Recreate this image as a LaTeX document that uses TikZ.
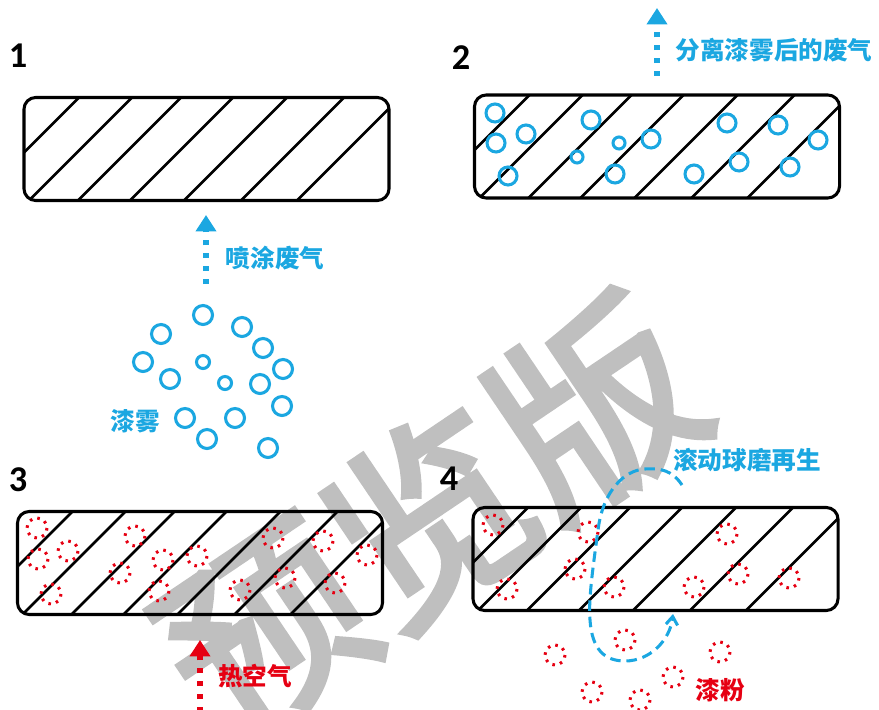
\documentclass[tikz,border=0pt]{standalone}
\usepackage{fontspec}
\newfontfamily\cjk{Noto Sans CJK SC}
\newfontfamily\markfont{Noto Sans CJK SC}[FakeBold=3]
\newfontfamily\numfont{Carlito}
\usetikzlibrary{arrows.meta}
\definecolor{sprayblue}{RGB}{27,167,225}
\definecolor{paintred}{RGB}{230,0,18}
\definecolor{markgray}{RGB}{191,191,191}
\begin{document}
\begin{tikzpicture}[x=0.03cm, y=-0.03cm,
bed/.style={draw, line width=2.6pt, rounded corners=10pt, outer sep=0pt, minimum width=10.95cm, minimum height=3.09cm},
hatch/.style={line width=2.4pt},
stagenum/.style={font=\numfont\bfseries\fontsize{31}{31}\selectfont},
bluelabel/.style={text=sprayblue, font=\cjk\bfseries\fontsize{21}{25}\selectfont, inner sep=0pt},
redlabel/.style={text=paintred, font=\cjk\bfseries\fontsize{21}{25}\selectfont, inner sep=0pt},
watermark/.style={text=markgray, font=\markfont\fontsize{170}{170}\selectfont, rotate=34, inner sep=0pt},
blueflow/.style={sprayblue, line width=4.5pt, dash pattern=on 4.5pt off 6.5pt, -{Triangle[length=14pt, width=17pt]}},
redflow/.style={paintred, line width=4.5pt, dash pattern=on 4.5pt off 6.5pt, -{Triangle[length=14pt, width=17pt]}},
mist/.style={sprayblue, line width=2.6pt},
powder/.style={paintred, line width=2.6pt, dash pattern=on 2.2pt off 4.5pt},
rollpath/.style={sprayblue, line width=2.6pt, dash pattern=on 9pt off 5pt, -{Straight Barb[length=7pt, width=10pt]}},
]
\useasboundingbox (0,0) rectangle (879,710);
%Watermark
\node[watermark] (wm) at (430,518) {预览版};
%Beds
\node[bed] (b1) at (206.5,149) {};
\node[bed] (b2) at (657,146.5) {};
\node[bed] (b3) at (200,563) {};
\node[bed] (b4) at (655.5,559) {};
%Hatching
\foreach \b in {b1,b2,b3,b4}{
\begin{scope}
\clip[rounded corners=10pt] (\b.north west) rectangle (\b.south east);
\foreach \t in {55,108,157,209,263,320,376}
    \draw[hatch] ([xshift=\t*0.03cm]\b.north west) -- ++(-106,106);
\end{scope}
}
%Numbers
\node[stagenum] (n1) at (18,56) {1};
\node[stagenum] (n2) at (461,58) {2};
\node[stagenum] (n3) at (18,480) {3};
\node[stagenum] (n4) at (449,479) {4};
%Stage 1: spray
\foreach \x/\y/\r in {203/315/9.5, 161/334/9.5, 242/327/9.5, 263/348/9.5, 143/362/9.5,
    203/362/6.5, 170/379/9.5, 225/383/6.5, 260/384/9.5, 283/369/9.5,
    282/406/9.5, 185/418/9.5, 235/418/9.5, 207/439/9.5, 268/448/9.5}
    \draw[mist] (\x,\y) circle[radius=\r];
\node[bluelabel] (mistlbl) at (135,421) {漆雾};
\coordinate (a1 tail) at (206,284);
\coordinate (a1 tip) at (206,215);
\draw[blueflow] (a1 tail) -- (a1 tip);
\node[bluelabel] (gaslbl) at (275,258) {喷涂废气};
%Stage 2: mist caught
\foreach \x/\y/\r in {495/113/9, 496/143/9, 526/134/9, 508/176/9, 591/120/9,
    577/157/6, 619/143/6, 651/139/9, 615/174/9, 727/123/9,
    694/174/9, 739/162/9, 778/125/9, 790/167/9, 818/140/9}
    \draw[mist] (\x,\y) circle[radius=\r];
\coordinate (a2 tail) at (657,76);
\coordinate (a2 tip) at (657,8);
\draw[blueflow] (a2 tail) -- (a2 tip);
\node[bluelabel] (outlbl) at (774,50) {分离漆雾后的废气};
%Stage 3: hot air
\foreach \x/\y in {37/528, 68/551, 38/559, 51/594, 135/536, 120/573, 163/560, 197/556,
    159/591, 240/590, 273/538, 285/578, 323/541, 335/583, 367/555}
    \draw[powder] (\x,\y) circle[radius=10];
\coordinate (a3 tail) at (200,712);
\coordinate (a3 tip) at (200,640);
\draw[redflow] (a3 tail) -- (a3 tip);
\node[redlabel] (airlbl) at (255,676) {热空气};
%Stage 4: regeneration
\foreach \x/\y in {493/525, 588/532, 727/534, 575/569, 507/589, 614/587, 694/587, 738/574, 789/578,
    625/640, 555/655, 720/652, 673/677, 592/692, 640/700}
    \draw[powder] (\x,\y) circle[radius=10];
\coordinate (r start) at (682,485);
\coordinate (r top) at (645,469);
\coordinate (r left) at (598,530);
\coordinate (r low) at (590,620);
\coordinate (r bottom) at (625,661);
\coordinate (r end) at (673,614);
\draw[rollpath] (r start) .. controls (672,470) and (660,468) .. (r top)
    .. controls (625,470) and (603,490) .. (r left)
    .. controls (594,560) and (588,600) .. (r low)
    .. controls (592,650) and (605,661) .. (r bottom)
    .. controls (650,661) and (670,640) .. (r end);
\node[bluelabel] (rolllbl) at (747,460) {滚动球磨再生};
\node[redlabel] (powderlbl) at (720,690) {漆粉};
\end{tikzpicture}
\end{document}
